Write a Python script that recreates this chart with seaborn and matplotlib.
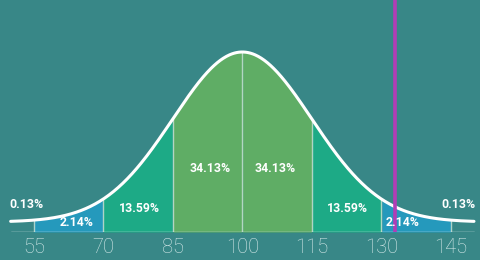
import numpy as np
import pandas as pd
import matplotlib
matplotlib.use("Agg")
import matplotlib.pyplot as plt
import seaborn as sns

# ---- data ----
mean = 100
sd = 15
bounds = [55, 70, 85, 100, 115, 130, 145]
region_labels = ["2.14%", "13.59%", "34.13%", "34.13%", "13.59%", "2.14%"]
tail_label = "0.13%"
tick_values = [55, 70, 85, 100, 115, 130, 145]
marker_value = 133
curve_start, curve_end = 50, 150

# ---- style ----
bg = "#388787"
region_colors = ["#2599bc", "#1daa86", "#5fad65", "#5fad65", "#1daa86", "#2599bc"]
purple = "#b23db6"

sns.set_theme(style="white")
plt.rcParams['font.family'] = ['Roboto', 'DejaVu Sans']

fig = plt.figure(figsize=(4.8, 2.6), dpi=100, facecolor=bg)
ax = fig.add_axes([0, 28 / 260, 1, 232 / 260])
ax.set_facecolor(bg)

base, amp = 10, 170  # curve offset and amplitude (pixels above baseline)
xs = np.linspace(curve_start, curve_end, 600)
ys = base + amp * np.exp(-0.5 * ((xs - mean) / sd) ** 2)
df = pd.DataFrame({"x": xs, "y": ys})

for i in range(len(bounds) - 1):
    m = (xs >= bounds[i]) & (xs <= bounds[i + 1])
    ax.fill_between(xs[m], 0, ys[m], color=region_colors[i], lw=0, zorder=1)

for b in bounds:
    h = base + amp * np.exp(-0.5 * ((b - mean) / sd) ** 2)
    ax.plot([b, b], [0, h], color="#cfe6d6", lw=1, alpha=0.8, zorder=2)

ax.plot([curve_start, curve_end], [0, 0], color="#d8eaea", lw=1, zorder=2)
sns.lineplot(data=df, x="x", y="y", ax=ax, color="white", lw=2.2, zorder=4)

ax.axvline(marker_value, color=purple, lw=2.6, zorder=5)

# labels
lab_pos = [(64.2, 9), (77.7, 24), (93, 64), (107, 64), (122.6, 24), (134.5, 9)]
for (x, y), t in zip(lab_pos, region_labels):
    ax.text(x, y, t, color="white", fontsize=8.8, fontweight="bold",
            ha="center", va="center", zorder=6)
for x in (53.5, 146.6):
    ax.text(x, 28, tail_label, color="white", fontsize=8.8, fontweight="bold",
            ha="center", va="center", zorder=6)

ax.set_xlim(47.7, 151.3)
ax.set_ylim(0, 232)
ax.set_xticks(tick_values)
ax.set_xticklabels([str(v) for v in tick_values])
ax.set_yticks([])
ax.tick_params(axis="x", length=0, pad=4.5, labelsize=14.5, labelcolor="#d6eaea")
for lbl in ax.get_xticklabels():
    lbl.set_fontweight("light")
for s in ax.spines.values():
    s.set_visible(False)
ax.set_xlabel("")
ax.set_ylabel("")

fig.savefig("out.png", dpi=100, facecolor=bg)
